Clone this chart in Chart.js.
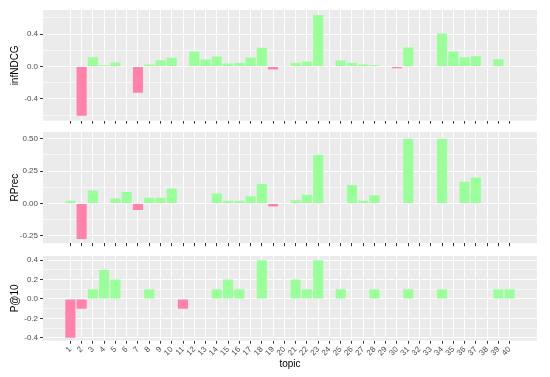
<!DOCTYPE html>
<html><head><meta charset="utf-8">
<script src="https://cdn.jsdelivr.net/npm/chart.js@4/dist/chart.umd.min.js"></script>
<style>
html,body{margin:0;padding:0;background:#fff;width:550px;height:377px;overflow:hidden;}
canvas{position:absolute;left:0;}
</style></head><body>
<canvas id="c1" width="550" height="128" style="top:0px"></canvas>
<canvas id="c2" width="550" height="128" style="top:122px"></canvas>
<canvas id="c3" width="550" height="131" style="top:246px"></canvas>
<script>
const topics = [1,2,3,4,5,6,7,8,9,10,11,12,13,14,15,16,17,18,19,20,21,22,23,24,25,26,27,28,29,30,31,32,33,34,35,36,37,38,39,40];
const infNDCG = [0.005,-0.606,0.115,0.016,0.05,0.004,-0.322,0.025,0.078,0.107,0,0.186,0.087,0.124,0.037,0.045,0.111,0.231,-0.037,0.004,0.046,0.062,0.635,0.008,0.074,0.046,0.025,0.02,0,-0.02,0.235,0,0,0.408,0.186,0.115,0.128,0,0.09,0];
const rPrec = [0.021,-0.273,0.1,0,0.039,0.09,-0.049,0.044,0.044,0.116,0,0,0,0.077,0.021,0.021,0.057,0.15,-0.023,0,0.026,0.067,0.376,0,0,0.144,0.021,0.064,0,0,0.5,0,0,0.5,0,0.168,0.201,0,0,0];
const p10 = [-0.4,-0.1,0.1,0.3,0.2,0,0,0.1,0,0,-0.1,0,0,0.1,0.2,0.1,0,0.4,0,0,0.2,0.1,0.4,0,0.1,0,0,0.1,0,0,0.1,0,0,0.1,0,0,0,0,0.1,0.1];
const infMajor = [-0.4,0,0.4], infMinor = [-0.6,-0.2,0.2,0.6];
const rpMajor = [-0.25,0,0.25,0.5], rpMinor = [-0.125,0.125,0.375];
const p10Major = [-0.4,-0.2,0,0.2,0.4], p10Minor = [-0.3,-0.1,0.1,0.3];

const FAM = "'Liberation Sans', Arial, sans-serif";
const PINK = '#FF82AB', GREEN = '#9AFF9A';
const panelBg = { id:'panelBg', beforeDraw(chart){ const a=chart.chartArea, c=chart.ctx; c.save(); c.fillStyle='#EBEBEB'; c.fillRect(a.left,a.top,a.right-a.left,a.bottom-a.top); c.restore(); } };

function yAxis(title, min, max, major, minor, dec){
  const all = major.concat(minor).sort((a,b)=>a-b);
  const isMaj = v => major.some(m => Math.abs(m-v) < 1e-9);
  return {
    type:'linear', position:'left', min:min, max:max,
    afterBuildTicks: s => { s.ticks = all.map(v=>({value:v})); },
    afterFit: s => { s.width = 38; },
    ticks:{ autoSkip:false, padding:2, color:'#4D4D4D', font:{family:FAM,size:8}, callback: v => isMaj(v) ? Number(v).toFixed(dec) : '' },
    grid:{ color:'#FFFFFF', lineWidth: c => (c.tick && isMaj(c.tick.value)) ? 1 : 0.6, tickColor: c => (c.tick && isMaj(c.tick.value)) ? '#333333' : 'rgba(0,0,0,0)', tickLength:3, tickWidth:1 },
    border:{display:false},
    title:{display:true, text:title, color:'#000', font:{family:FAM,size:10}, padding:{top:4,bottom:4}}
  };
}
function xAxis(showLabels, height){
  return {
    type:'linear', position:'bottom', min:-1.43, max:42.43, offset:false,
    afterBuildTicks: s => { s.ticks = topics.map(v=>({value:v})); },
    afterFit: s => { s.height = height; },
    ticks:{ autoSkip:false, maxRotation: showLabels?45:0, minRotation: showLabels?45:0, padding:1, color:'#4D4D4D', font:{family:FAM,size:8}, callback: v => showLabels ? String(v) : '' },
    grid:{ color:'#FFFFFF', lineWidth:1, offset:false, tickColor:'#333333', tickLength:3, tickWidth:1 },
    border:{display:false},
    title: showLabels ? {display:true, text:'topic', color:'#000', font:{family:FAM,size:10}, padding:{top:2,bottom:7}} : {display:false}
  };
}
function make(id, vals, yCfg, xCfg){
  new Chart(document.getElementById(id), {
    type:'bar',
    data:{ datasets:[{ data: topics.map((t,i)=>({x:t, y:vals[i]})), backgroundColor: c => (c.raw && c.raw.y < 0) ? PINK : GREEN, borderWidth:0, categoryPercentage:0.9, barPercentage:1 }] },
    options:{
      responsive:false, animation:false, devicePixelRatio:1,
      layout:{ padding:{ left:5, right:13, top:10, bottom:0 } },
      plugins:{ legend:{display:false}, tooltip:{enabled:false} },
      scales:{ x:xCfg, y:yCfg }
    },
    plugins:[panelBg]
  });
}
make('c1', infNDCG, yAxis('infNDCG', -0.668, 0.697, infMajor, infMinor, 1), xAxis(false, 7.3));
make('c2', rPrec, yAxis('RPrec', -0.306, 0.552, rpMajor, rpMinor, 2), xAxis(false, 6.7));
make('c3', p10, yAxis('P@10', -0.431, 0.444, p10Major, p10Minor, 1), xAxis(true, 36.3));
</script>
</body></html>
